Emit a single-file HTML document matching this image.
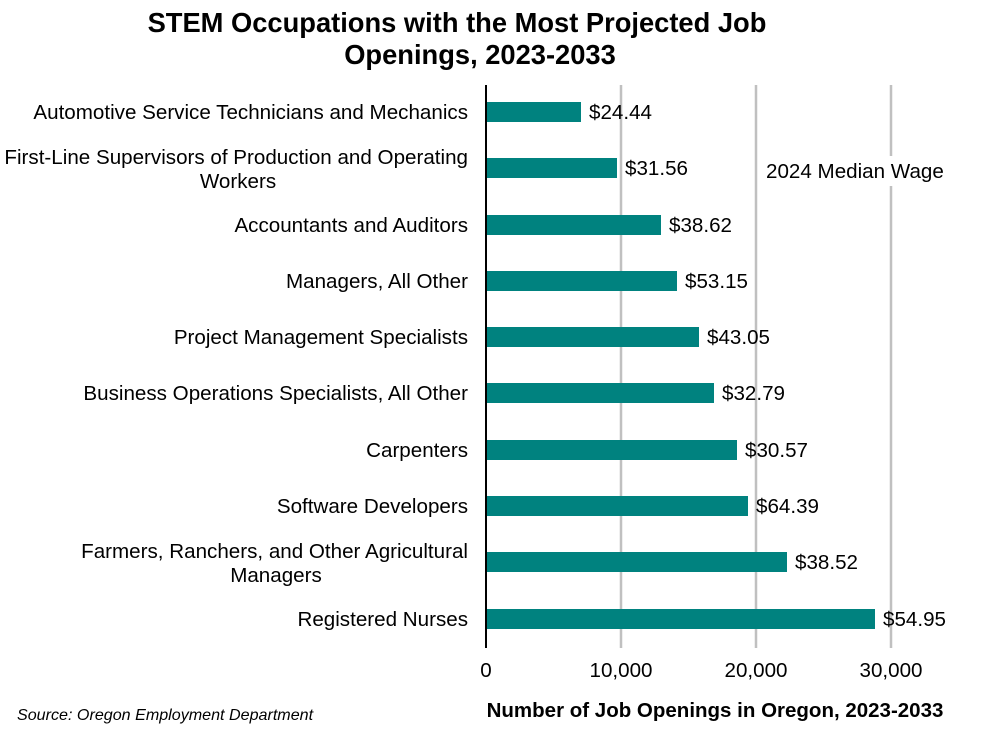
<!DOCTYPE html>
<html><head><meta charset="utf-8"><style>
body{margin:0;background:#fff;}
svg text{font-family:"Liberation Sans",Arial,sans-serif;}
</style></head><body>
<svg width="1000" height="724" xmlns="http://www.w3.org/2000/svg">
<rect width="1000" height="724" fill="#fff"/>
<text x="457" y="32" font-size="27.3" font-weight="bold" text-anchor="middle">STEM Occupations with the Most Projected Job</text>
<text x="480" y="64" font-size="27.3" font-weight="bold" text-anchor="middle">Openings, 2023-2033</text>
<g stroke="#c0c0c0" stroke-width="2.5">
<line x1="621" y1="85" x2="621" y2="648"/>
<line x1="756" y1="85" x2="756" y2="648"/>
<line x1="891" y1="85" x2="891" y2="648"/>
</g>
<rect x="760" y="156" width="190" height="30" fill="#fff"/>
<text x="766" y="178" font-size="20.6">2024 Median Wage</text>
<line x1="486" y1="85" x2="486" y2="648" stroke="#000" stroke-width="2"/>
<g fill="#00827f">
<rect x="487" y="102" width="94" height="20"/>
<rect x="487" y="158" width="130" height="20"/>
<rect x="487" y="215" width="174" height="20"/>
<rect x="487" y="271" width="190" height="20"/>
<rect x="487" y="327" width="212" height="20"/>
<rect x="487" y="383" width="227" height="20"/>
<rect x="487" y="440" width="250" height="20"/>
<rect x="487" y="496" width="261" height="20"/>
<rect x="487" y="552" width="300" height="20"/>
<rect x="487" y="609" width="388" height="20"/>
</g>
<g font-size="20.6">
<text x="589" y="119">$24.44</text>
<text x="625" y="175">$31.56</text>
<text x="669" y="232">$38.62</text>
<text x="685" y="288">$53.15</text>
<text x="707" y="344">$43.05</text>
<text x="722" y="400">$32.79</text>
<text x="745" y="457">$30.57</text>
<text x="756" y="513">$64.39</text>
<text x="795" y="569">$38.52</text>
<text x="883" y="626">$54.95</text>
</g>
<g font-size="20.6" text-anchor="end">
<text x="468" y="119">Automotive Service Technicians and Mechanics</text>
<text x="468" y="164">First-Line Supervisors of Production and Operating</text>
<text x="238" y="188" text-anchor="middle">Workers</text>
<text x="468" y="232">Accountants and Auditors</text>
<text x="468" y="288">Managers, All Other</text>
<text x="468" y="344">Project Management Specialists</text>
<text x="468" y="400">Business Operations Specialists, All Other</text>
<text x="468" y="457">Carpenters</text>
<text x="468" y="513">Software Developers</text>
<text x="468" y="558">Farmers, Ranchers, and Other Agricultural</text>
<text x="276" y="582" text-anchor="middle">Managers</text>
<text x="468" y="626">Registered Nurses</text>
</g>
<g font-size="20.6" text-anchor="middle">
<text x="486" y="677">0</text>
<text x="621" y="677">10,000</text>
<text x="756" y="677">20,000</text>
<text x="891" y="677">30,000</text>
</g>
<text x="715" y="717" font-size="20.5" font-weight="bold" text-anchor="middle">Number of Job Openings in Oregon, 2023-2033</text>
<text x="17" y="720" font-size="16.1" font-style="italic">Source: Oregon Employment Department</text>
</svg>
</body></html>
